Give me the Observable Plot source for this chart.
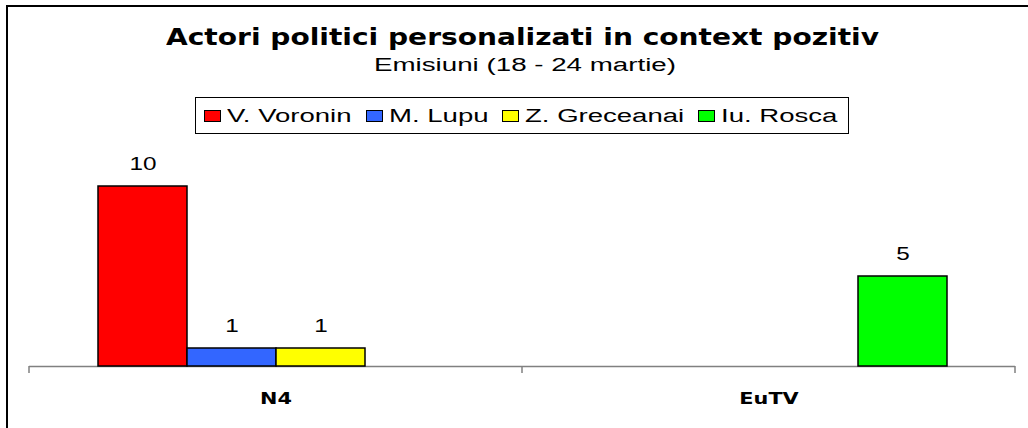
<!DOCTYPE html>
<html><head><meta charset="utf-8">
<script src="https://cdn.jsdelivr.net/npm/d3@7"></script>
<script src="https://cdn.jsdelivr.net/npm/@observablehq/plot@0.6"></script>
<style>
body{margin:0;background:#fff;}
#wrap{position:relative;width:1028px;height:428px;overflow:hidden;background:#fff;}
#frame{position:absolute;left:6px;top:5px;width:1100px;height:600px;border:2px solid #000;box-sizing:border-box;}
.hdr{position:absolute;white-space:nowrap;line-height:1;}
#title{font:bold 23px "DejaVu Sans";color:#000;}
#subtitle{font:18px "Liberation Sans";color:#000;}
#legend{position:absolute;top:97px;height:37px;box-sizing:border-box;border:1px solid #000;display:flex;align-items:center;padding:0 10px 0 8px;font:18px "Liberation Sans";line-height:1;background:#fff;white-space:nowrap;}
.sw{width:17px;height:12px;box-sizing:border-box;border:1px solid #000;margin-right:6px;flex:none;}
.item{display:flex;align-items:center;margin-right:14px;}
.item:last-child{margin-right:0;}
.st{display:inline-block;white-space:nowrap;}
.st > span{display:inline-block;transform-origin:0 50%;white-space:nowrap;}
#chart{position:absolute;left:0;top:140px;}
</style></head>
<body><div id="wrap"><div id="frame"></div></div>
<script>
const title = "Actori politici personalizati in context pozitiv";
const subtitle = "Emisiuni (18 - 24 martie)";
const channels = ["N4", "EuTV"];
const persons = ["V. Voronin", "M. Lupu", "Z. Greceanai", "Iu. Rosca"];
const colors = ["#FF0000", "#3366FF", "#FFFF00", "#00FF00"];
const valuesN4 = [10, 1, 1, 0];
const valuesEuTV = [0, 0, 0, 5];

const wrap = document.getElementById("wrap");

// stretched HTML text helper
function stretched(text, k, target) {
  const outer = document.createElement("span");
  outer.className = "st";
  const inner = document.createElement("span");
  inner.textContent = text;
  outer.appendChild(inner);
  outer._fit = () => {
    const w = inner.getBoundingClientRect().width;
    const kk = target ? target / w : k;
    outer.style.width = (w * kk) + "px";
    inner.style.transform = `scaleX(${kk})`;
    return w * kk;
  };
  return outer;
}

// Title
const tDiv = document.createElement("div");
tDiv.className = "hdr"; tDiv.id = "title";
const tSpan = stretched(title, null, 713);
tDiv.appendChild(tSpan); wrap.appendChild(tDiv);
const tw = tSpan._fit();
tDiv.style.left = (522 - tw / 2) + "px"; tDiv.style.top = "24px";

// Subtitle
const sDiv = document.createElement("div");
sDiv.className = "hdr"; sDiv.id = "subtitle";
const sSpan = stretched(subtitle, null, 302);
sDiv.appendChild(sSpan); wrap.appendChild(sDiv);
const sw = sSpan._fit();
sDiv.style.left = (525 - sw / 2) + "px"; sDiv.style.top = "55px";

// Legend
const leg = document.createElement("div");
leg.id = "legend";
wrap.appendChild(leg);
const legSpans = [];
persons.forEach((p, i) => {
  const it = document.createElement("div"); it.className = "item";
  const s = document.createElement("div"); s.className = "sw"; s.style.background = colors[i];
  const t = stretched(p, 1.53);
  it.appendChild(s); it.appendChild(t); leg.appendChild(it);
  legSpans.push(t);
});
legSpans.forEach(t => t._fit());
const lw = leg.getBoundingClientRect().width;
leg.style.left = (522 - lw / 2) + "px";

// Data table built from the arrays
const data = [];
channels.forEach((c, i) => {
  const vals = i === 0 ? valuesN4 : valuesEuTV;
  persons.forEach((p, j) => data.push({channel: c, person: p, value: vals[j]}));
});
const shown = data.filter(d => d.value > 0);

const plot = Plot.plot({
  width: 1028, height: 288,
  marginTop: 46, marginBottom: 62, marginLeft: 29, marginRight: 13,
  fx: {domain: channels, padding: 0, axis: "bottom", label: null, tickSize: 0, tickPadding: 26},
  x: {domain: persons, axis: null, paddingInner: 0, paddingOuter: 0.75},
  y: {domain: [0, 10], axis: null},
  color: {domain: persons, range: colors},
  style: {background: "transparent", overflow: "visible"},
  marks: [
    Plot.ruleY([0], {stroke: "#808080", strokeWidth: 1.5}),
    Plot.barY(shown, {fx: "channel", x: "person", y: "value", fill: "person", stroke: "#000", strokeWidth: 1.5}),
    Plot.text(shown, {fx: "channel", x: "person", y: "value", text: d => String(d.value), dy: -22,
      fontSize: 18, fontFamily: "Liberation Sans", fill: "#000"})
  ]
});
const chartDiv = document.createElement("div");
chartDiv.id = "chart";
chartDiv.appendChild(plot);
wrap.appendChild(chartDiv);

// category separator ticks from the fx scale
const fxs = plot.scale("fx");
const ys = plot.scale("y");
const y0 = ys.range[0];
const band = d3.scaleBand(fxs.domain, fxs.range).paddingInner(0).paddingOuter(0);
const edges = fxs.domain.map(d => band(d)).concat([band(fxs.domain[fxs.domain.length - 1]) + band.bandwidth()]);
d3.select(plot).append("g").attr("aria-label", "category ticks")
  .selectAll("line").data(edges).join("line")
  .attr("x1", d => d).attr("x2", d => d).attr("y1", y0).attr("y2", y0 + 7)
  .attr("stroke", "#808080").attr("stroke-width", 1.5);

// style fx axis labels
const fxTexts = Array.from(plot.querySelectorAll('g[aria-label^="fx-axis"] text'));
fxTexts.forEach(t => {
  t.setAttribute("font-family", "DejaVu Sans");
  t.setAttribute("font-weight", "bold");
  t.setAttribute("font-size", "16");
  t.setAttribute("fill", "#000");
  t.style.fontFamily = "DejaVu Sans"; t.style.fontWeight = "bold"; t.style.fontSize = "16px";
});
// horizontal stretch of svg texts
function stretchSvg(t, k) {
  const len = t.getComputedTextLength();
  t.setAttribute("textLength", len * k);
  t.setAttribute("lengthAdjust", "spacingAndGlyphs");
}
fxTexts.forEach(t => stretchSvg(t, 1.3));
plot.querySelectorAll('g[aria-label="text"] text').forEach(t => stretchSvg(t, 1.35));
</script>
</body></html>
